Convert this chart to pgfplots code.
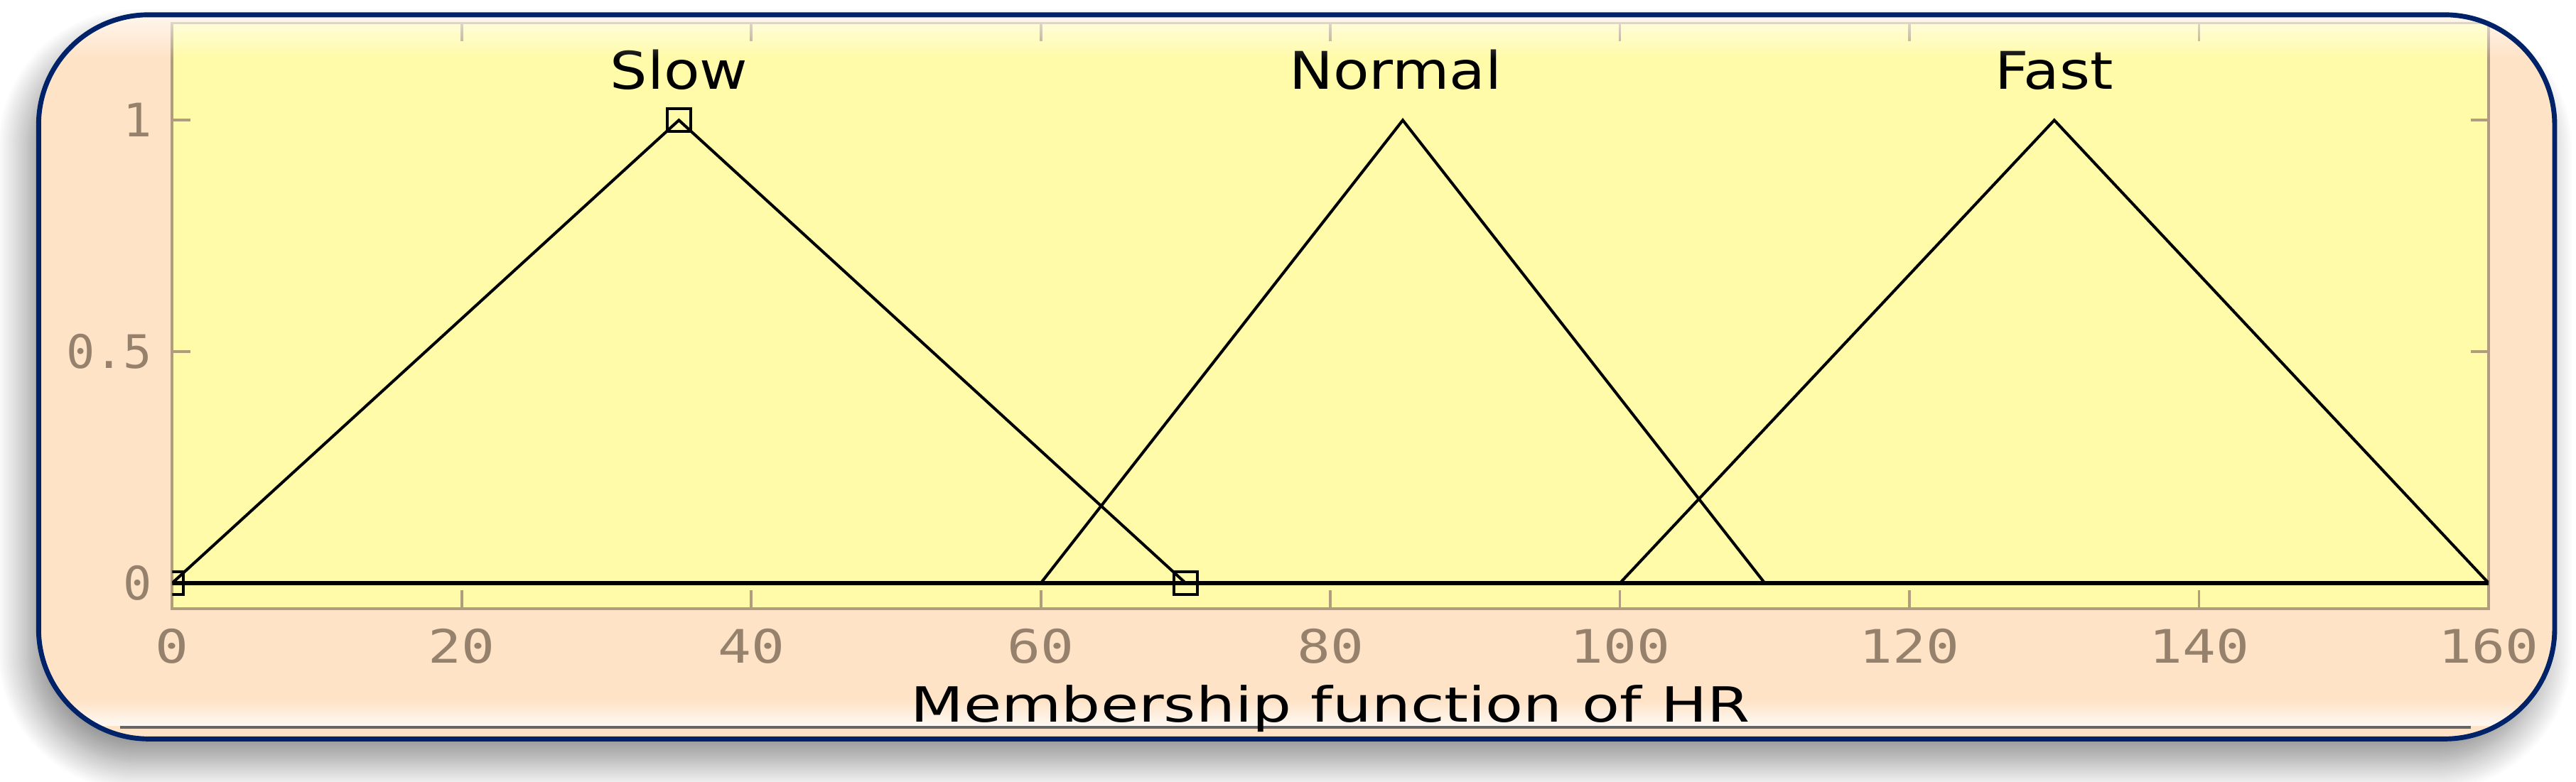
\documentclass[border=0pt]{standalone}
\usepackage{fontspec}
\usepackage{pgfplots}
\pgfplotsset{compat=1.18}
\usetikzlibrary{shadows.blur,fadings}
\setmainfont{DejaVu Sans}
\newfontfamily\labfont[FakeStretch=1.27]{DejaVu Sans}
\newfontfamily\mflabfont[FakeStretch=1.13]{DejaVu Sans}
\newfontfamily\xtickfont[FakeStretch=1.2]{DejaVu Sans Mono}
\newfontfamily\ytickfont[FakeStretch=1.03]{DejaVu Sans Mono}
\definecolor{peach}{RGB}{254,227,198}
\definecolor{mfyellow}{RGB}{255,251,168}
\definecolor{axtan}{RGB}{178,156,128}
\definecolor{ticktxt}{RGB}{150,130,108}
\definecolor{frameblue}{RGB}{0,34,104}
\begin{document}
\begin{tikzpicture}[x=1mm,y=1mm]
\path[use as bounding box] (0,0) rectangle (156.8,47.6);
\fill[peach, rounded corners=6.7mm, blur shadow={shadow xshift=-0.7mm, shadow yshift=-1.4mm, shadow blur radius=1.8mm, shadow blur steps=24, shadow opacity=45}] (2.35,2.6) rectangle (155.5,46.7);
\begin{scope}
\clip[rounded corners=6.7mm] (2.35,2.6) rectangle (155.5,46.7);
\fill[white, path fading=north, opacity=0.8] (2.35,3.4) rectangle (155.5,5.0);
\draw[black!60, line width=0.2mm] (7.3,3.3) -- (150.4,3.3);
\end{scope}
\begin{axis}[
  at={(10.48mm,10.54mm)}, anchor=south west,
  scale only axis, width=141.0mm, height=35.66mm,
  xmin=0, xmax=160, ymin=-0.055, ymax=1.21,
  axis background/.style={fill=mfyellow},
  axis line style={axtan, line width=0.45pt},
  tick style={axtan, line width=0.45pt},
  tick align=inside, major tick length=1.1mm,
  xtick={0,20,...,160}, ytick={0,0.5,1},
  xtick pos=both, ytick pos=both,
  /pgf/number format/assume math mode=true,
  xticklabel style={font=\xtickfont\fontsize{8}{9}\selectfont, text=ticktxt, anchor=base, yshift=-3.3mm, inner sep=0pt},
  yticklabel style={font=\ytickfont\fontsize{8}{9}\selectfont, text=ticktxt, anchor=east, xshift=-1.15mm, inner sep=0pt},
  xlabel={Membership function of HR},
  xlabel style={font=\labfont\fontsize{8.4}{10}\selectfont, text=black, at={(axis description cs:0.5,0)}, anchor=base, yshift=-6.9mm, inner sep=0pt},
  clip marker paths=true,
]
\addplot[black, line width=0.7pt] coordinates {(0,0) (160,0)};
\addplot[black, line width=0.5pt, mark=square, mark size=0.7mm, mark options={solid, line width=0.5pt}] coordinates {(0,0) (35,1) (70,0)};
\addplot[black, line width=0.5pt] coordinates {(60,0) (85,1) (110,0)};
\addplot[black, line width=0.5pt] coordinates {(100,0) (130,1) (160,0)};
\node[font=\mflabfont\fontsize{9}{10}\selectfont, anchor=base, inner sep=0pt] at (axis cs:35,1.067) {Slow};
\node[font=\mflabfont\fontsize{9}{10}\selectfont, anchor=base, inner sep=0pt] at (axis cs:84.5,1.067) {Normal};
\node[font=\mflabfont\fontsize{9}{10}\selectfont, anchor=base, inner sep=0pt] at (axis cs:130,1.067) {Fast};
\end{axis}
\begin{scope}
\clip[rounded corners=6.7mm] (2.35,2.6) rectangle (155.5,46.7);
\fill[white, path fading=south, opacity=0.7] (2.35,44.0) rectangle (155.5,46.7);
\end{scope}
\draw[frameblue, line width=0.85pt, rounded corners=6.7mm] (2.35,2.6) rectangle (155.5,46.7);
\end{tikzpicture}
\end{document}
